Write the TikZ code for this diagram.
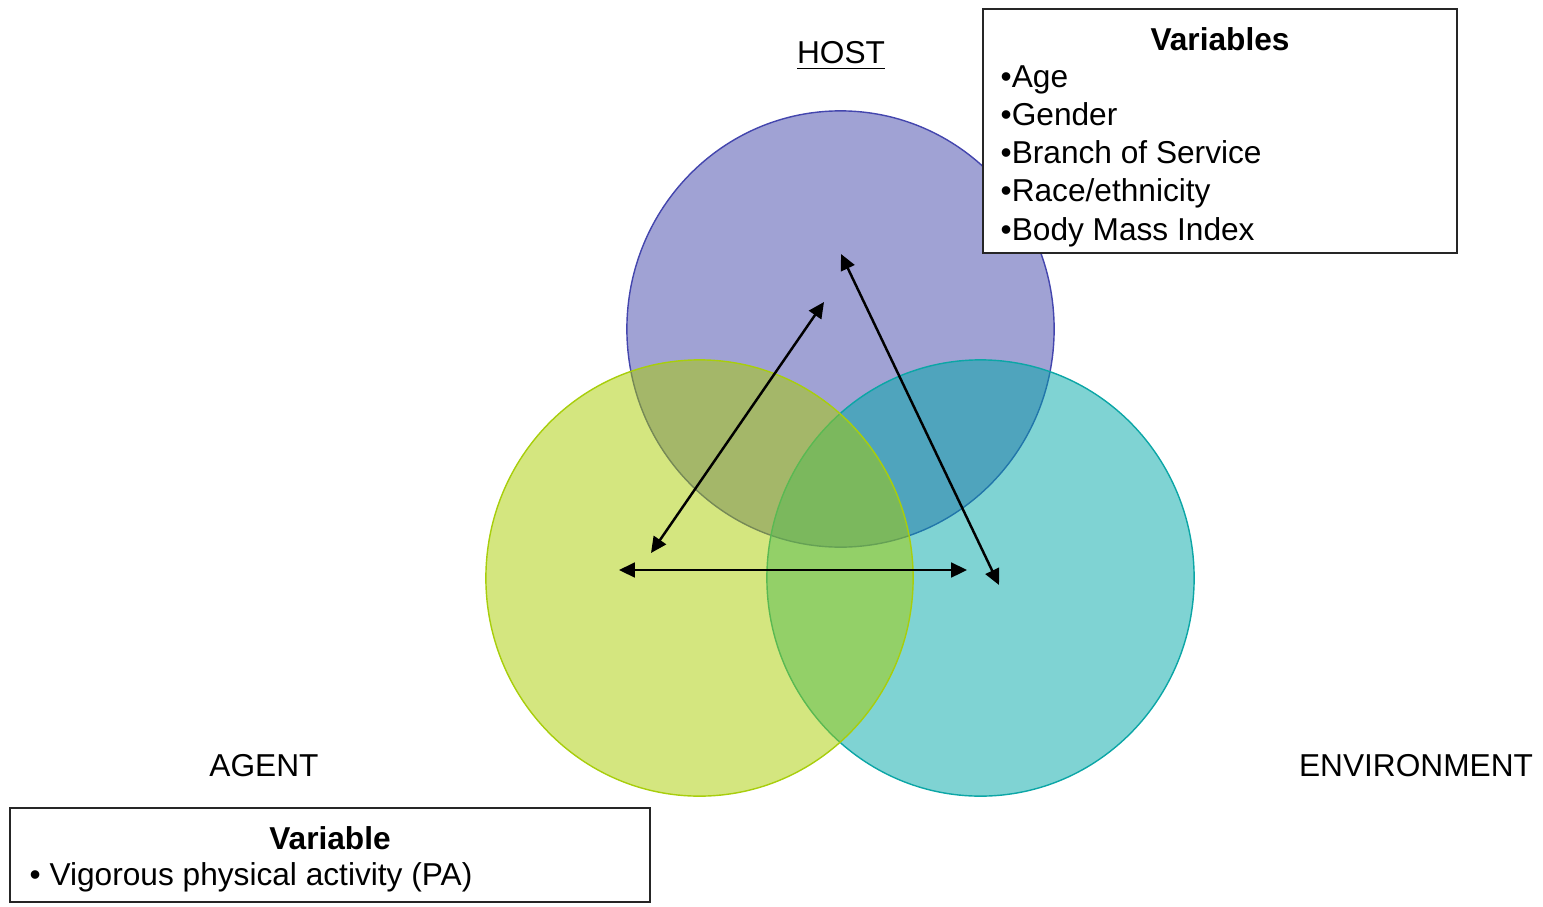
\documentclass[tikz,border=0pt]{standalone}
\usepackage{fontspec}
\setmainfont{Liberation Sans}
\usetikzlibrary{arrows.meta,positioning,shapes.geometric}
\definecolor{hostblue}{HTML}{4145A9}
\definecolor{hostline}{HTML}{4446AE}
\definecolor{agentgreen}{HTML}{A9CD00}
\definecolor{agentline}{HTML}{A8CE0C}
\definecolor{envteal}{HTML}{00A7A7}
\definecolor{envline}{HTML}{0CA6A6}
\newcommand\slidefont{\fontsize{9}{10.9}\selectfont}

\begin{document}
\begin{tikzpicture}[x=0.01cm,y=-0.01cm,font=\slidefont,>={Triangle[length=4.5pt,width=4.2pt]}]
  \tikzset{ring/.style={ellipse,minimum width=4.27cm,minimum height=4.36cm,fill opacity=.5,line width=.4pt},
    varbox/.style={draw=black!85,line width=.6pt,fill=white,inner sep=0pt},
    tag/.style={anchor=base,inner sep=0pt},
    item/.style={anchor=base west,inner sep=0pt},
    link/.style={<->,line width=.7pt}}
  \useasboundingbox (0,0) rectangle (1543,906);
  % the three circles
  \node[ring,draw=hostline,fill=hostblue] (host) at (840.5,329) {};
  \node[ring,draw=envline,fill=envteal] (env) at (980.5,578) {};
  \node[ring,draw=agentline,fill=agentgreen] (agent) at (699.5,578) {};
  % arrow ends
  \coordinate (hostL) at (824,302);
  \coordinate (hostR) at (841,254);
  \coordinate (agentT) at (651,553);
  \coordinate (agentR) at (619,570);
  \coordinate (envT) at (999,585);
  \coordinate (envL) at (967,570);
  \draw[link] (agentT) -- (hostL);
  \draw[link] (hostR) -- (envT);
  \draw[link] (agentR) -- (envL);
  % labels
  \node[tag] (hostlabel) at (841,63) {\underline{HOST}};
  \node[tag] (agentlabel) at (264,776) {AGENT};
  \node[tag] (envlabel) at (1416,776) {ENVIRONMENT};
  % host variables
  \node[varbox,minimum width=4.74cm,minimum height=2.44cm] (hostbox) at (1220,131) {};
  \node[tag,font=\slidefont\bfseries] (hosttitle) at (1220,50) {Variables};
  \foreach \txt [count=\i] in {Age,Gender,Branch of Service,Race/ethnicity,Body Mass Index}
    \node[item] (hostvar\i) at (1000,{87+38.3*(\i-1)}) {•\txt};
  % agent variable
  \node[varbox,minimum width=6.4cm,minimum height=0.94cm] (agentbox) at (330,855) {};
  \node[tag,font=\slidefont\bfseries] (agenttitle) at (330,849) {Variable};
  \node[item] (agentvar) at (29,885) {• Vigorous physical activity (PA)};
\end{tikzpicture}
\end{document}
